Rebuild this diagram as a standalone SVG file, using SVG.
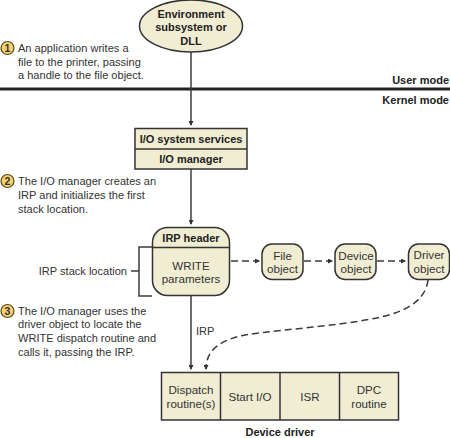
<svg xmlns="http://www.w3.org/2000/svg" width="450" height="438" viewBox="0 0 450 438">
<style>
text{font-family:"Liberation Sans",Arial,sans-serif;font-size:11.600px;fill:#333}
.t{font-size:11.050px}
.b{font-weight:700;fill:#222;font-size:11px}
.m{text-anchor:middle}
.e{text-anchor:end}
.s{fill:#f1edd3;stroke:#333;stroke-width:1.5}
.c{fill:none;stroke:#3c3c3c;stroke-width:1.5}
.d{stroke-dasharray:7 4}
.n{font-weight:700;font-size:10.500px;fill:#333;text-anchor:middle}
.o{fill:#f6cf6e;stroke:#5a4a1a;stroke-width:1.2}
</style>
<defs><marker id="a" markerWidth="5" markerHeight="5" refX="4" refY="2.5" orient="auto" markerUnits="userSpaceOnUse"><path d="M0 0L5 2.5L0 5Z" fill="#333"/></marker></defs>
<rect x="0" y="87.500" width="450" height="3" fill="#222"/>
<g id="connectors">
<path class="c" marker-end="url(#a)" d="M191 52V125"/>
<path class="c" marker-end="url(#a)" d="M191 169V224"/>
<path class="c" marker-end="url(#a)" d="M191 296V369"/>
<path class="c d" marker-end="url(#a)" d="M231 261H259"/>
<path class="c d" marker-end="url(#a)" d="M304 261H332"/>
<path class="c d" marker-end="url(#a)" d="M377 261H405"/>
<path class="c d" marker-end="url(#a)" d="M428 280C426 298 410 308 395 313C360 325 290 328 245 335C220 340 206 350 206 369"/>
<path class="c" d="M152 247H139V296H152M139 271H131"/>
</g>
<g id="env"><ellipse class="s" cx="191" cy="26" rx="51.500" ry="26"/>
<text class="b m" x="191" y="18">Environment</text><text class="b m" x="191" y="31">subsystem or</text><text class="b m" x="191" y="45">DLL</text></g>
<g id="step1"><circle class="o" cx="7.500" cy="48" r="6.500"/><text class="n" x="7.500" y="52">1</text>
<text class="t" x="18" y="52">An application writes a</text><text class="t" x="18" y="66">file to the printer, passing</text><text class="t" x="18" y="79">a handle to the file object.</text></g>
<g id="modes"><text class="b e" x="449" y="84">User mode</text><text class="b e" x="449" y="104">Kernel mode</text></g>
<g id="io"><rect class="s" x="135" y="128.500" width="112" height="40.500"/><path class="s" d="M135 149H247"/>
<text class="b m" x="191" y="143">I/O system services</text><text class="b m" x="191" y="163">I/O manager</text></g>
<g id="step2"><circle class="o" cx="7.500" cy="181" r="6.500"/><text class="n" x="7.500" y="185">2</text>
<text class="t" x="18" y="185">The I/O manager creates an</text><text class="t" x="18" y="199">IRP and initializes the first</text><text class="t" x="18" y="213">stack location.</text></g>
<g id="irp"><rect class="s" x="152.500" y="227.500" width="77" height="68" rx="15"/><path class="s" d="M152.500 247.500H229.500"/>
<text class="b m" x="191" y="242">IRP header</text><text class="m" x="191" y="270">WRITE</text><text class="m" x="191" y="283">parameters</text></g>
<text class="t e" x="127" y="275">IRP stack location</text>
<g id="file"><rect class="s" x="262" y="244" width="41" height="35.500" rx="10"/><text class="m" x="282.500" y="260">File</text><text class="m" x="282.500" y="273">object</text></g>
<g id="device"><rect class="s" x="335" y="244" width="41" height="35.500" rx="10"/><text class="m" x="356" y="260">Device</text><text class="m" x="356" y="273">object</text></g>
<g id="driver"><rect class="s" x="408.500" y="244" width="41" height="35.500" rx="10"/><text class="m" x="429" y="259">Driver</text><text class="m" x="429" y="273">object</text></g>
<g id="step3"><circle class="o" cx="7.500" cy="311" r="6.500"/><text class="n" x="7.500" y="315">3</text>
<text class="t" x="18" y="315">The I/O manager uses the</text><text class="t" x="18" y="328">driver object to locate the</text><text class="t" x="18" y="342">WRITE dispatch routine and</text><text class="t" x="18" y="356">calls it, passing the IRP.</text></g>
<text class="t" x="196" y="335">IRP</text>
<g id="driver-table"><rect class="s" x="161.500" y="372.500" width="237" height="47.500"/><path class="s" d="M220.500 372.500V420M280 372.500V420M339.500 372.500V420"/>
<text class="m" x="191" y="394">Dispatch</text><text class="m" x="191" y="408">routine(s)</text><text class="m" x="250" y="401">Start I/O</text><text class="m" x="310" y="401">ISR</text><text class="m" x="369" y="394">DPC</text><text class="m" x="369" y="408">routine</text></g>
<text class="b m" x="280" y="436">Device driver</text>
</svg>
